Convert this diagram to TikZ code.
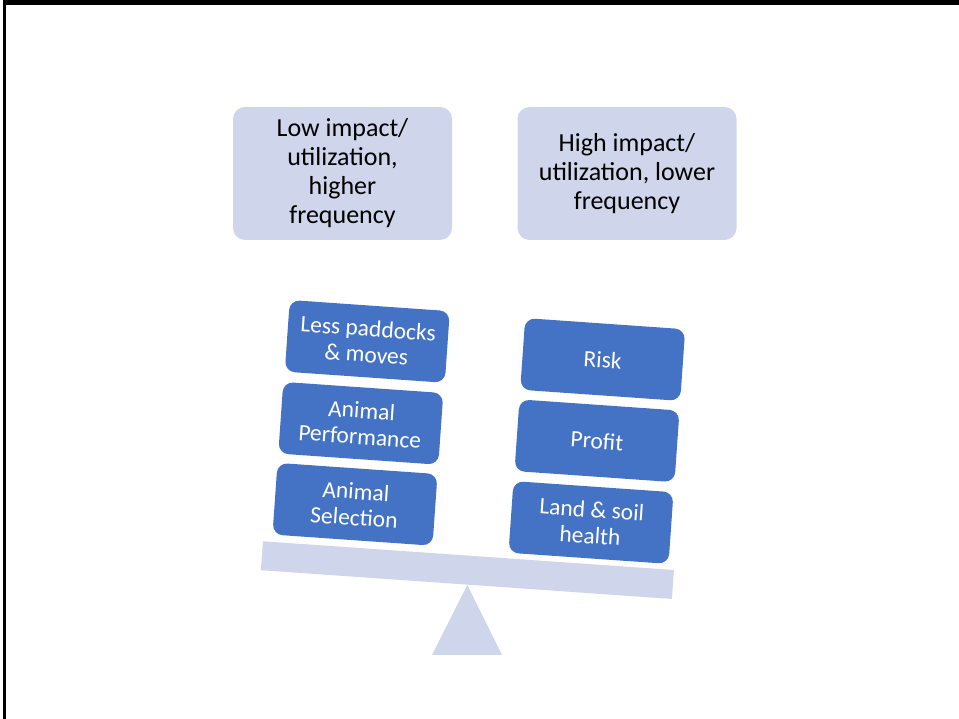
\documentclass[tikz,border=0pt]{standalone}
\usepackage{fontspec}
\setmainfont{Carlito}
\definecolor{lightbox}{RGB}{207,213,234}
\definecolor{bluebox}{RGB}{68,114,196}
\begin{document}
\begin{tikzpicture}[x=1pt,y=1pt,
  topbox/.style={fill=lightbox,draw=none,rounded corners=12pt,minimum width=219pt,minimum height=133pt,align=center,inner sep=0pt,font=\fontsize{26}{29}\selectfont},
  blockbox/.style={fill=bluebox,draw=none,rounded corners=10pt,minimum width=160.4pt,minimum height=71.8pt,align=center,inner sep=0pt,text=white,rotate=-4,font=\fontsize{23.5}{26}\selectfont},
  beambox/.style={fill=lightbox,draw=none,minimum width=412pt,minimum height=29pt,inner sep=0pt,rotate=-4},
  frameline/.style={fill=black,draw=none}]
\useasboundingbox (0,0) rectangle (959,719);
% slide frame
\fill[frameline] (3,719) rectangle (959,714);
\fill[frameline] (3,0) rectangle (6,719);
% top labels
\node[topbox] (low) at (342.5,545.5) {Low impact/\\utilization,\\higher\\frequency};
\node[topbox] (high) at (627,545.5) {High impact/\\utilization, lower\\frequency};
% fulcrum
\coordinate (apex) at (467.3,134);
\coordinate (baseL) at (432,64);
\coordinate (baseR) at (502,64);
\fill[lightbox] (apex) -- (baseR) -- (baseL) -- cycle;
% beam
\node[beambox] (beam) at (467.4,148.9) {};
% left stack
\node[blockbox] (sel) at (355,214.7) {Animal\\Selection};
\node[blockbox] (perf) at (360.8,295.7) {Animal\\Performance};
\node[blockbox] (less) at (367.3,377.6) {Less paddocks\\\&~moves};
% right stack
\node[blockbox] (land) at (591,196.5) {Land \& soil\\health};
\node[blockbox] (profit) at (597,278.2) {Profit};
\node[blockbox] (risk) at (602.7,359.5) {Risk};
\end{tikzpicture}
\end{document}
